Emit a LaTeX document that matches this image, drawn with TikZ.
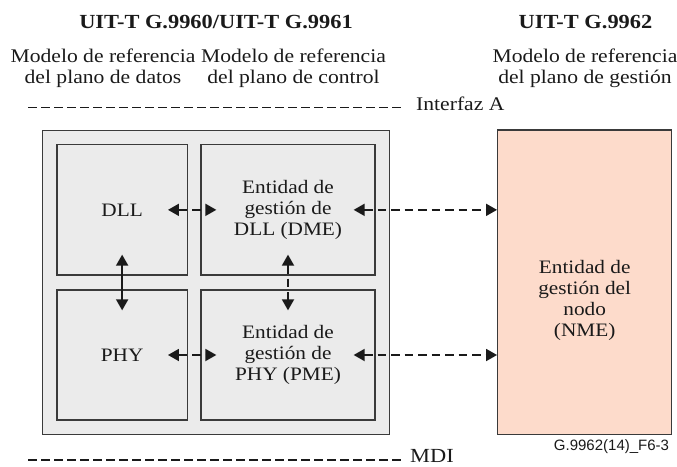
\documentclass[tikz,border=0pt]{standalone}
\usepackage{fontspec}
\setmainfont[FakeStretch=1.12]{Liberation Serif}
\newfontfamily\labelsans{Liberation Sans}
\usetikzlibrary{arrows.meta}

\definecolor{boxfill}{HTML}{EBEBEB}
\definecolor{boxline}{HTML}{3A3A3A}
\definecolor{nmefill}{HTML}{FDDBCB}
\definecolor{ink}{HTML}{1A1A1A}

\newcommand\boxfont{\fontsize{19}{21}\selectfont}
\newcommand\subfont{\fontsize{19.3}{21}\selectfont}
\newcommand\headfont{\fontsize{20}{22}\selectfont\bfseries}

\tikzset{
  panel/.style={draw=boxline, line width=1.3pt, fill=boxfill, inner sep=0pt,
                align=center, font=\boxfont, text=ink},
  caption/.style={inner sep=0pt, align=center, text=ink},
  tip/.tip={Triangle[length=11pt,width=12pt]},
  link/.style={line width=1.8pt, draw=ink, tip-tip},
  dashlink/.style={link, dash pattern=on 8.5pt off 5pt},
  refline/.style={line width=1.6pt, draw=ink, dash pattern=on 9pt off 4pt},
}

\begin{document}
\begin{tikzpicture}[x=1pt, y=-1pt]
\useasboundingbox (0,0) rectangle (677,466);

% headings
\node[caption, font=\headfont] (hleft) at (216,21.7) {UIT-T G.9960/UIT-T G.9961};
\node[caption, font=\headfont] (hright) at (585.5,21.7) {UIT-T G.9962};
\node[caption, font=\subfont] (mdata) at (103,68) {Modelo de referencia\\del plano de datos};
\node[caption, font=\subfont] (mctrl) at (293.5,68) {Modelo de referencia\\del plano de control};
\node[caption, font=\subfont] (mgest) at (585,68) {Modelo de referencia\\del plano de gestión};

% interface A reference line
\coordinate (ia0) at (28,107.5);
\coordinate (ia1) at (403,107.5);
\draw[refline] (ia0) -- (ia1);
\node[caption, anchor=west, font=\subfont] (ifa) at (416,103.5) {Interfaz A};

% G.9960/G.9961 container and its entities
\node[panel, minimum width=347pt, minimum height=303.6pt] (outer) at (215.8,282.5) {};
\node[panel, minimum width=130.3pt, minimum height=130.3pt] (dll) at (122.15,209.85) {DLL};
\node[panel, minimum width=130.3pt, minimum height=130pt] (phy) at (122.15,355) {PHY};
\node[panel, minimum width=174pt, minimum height=130.3pt] (dme) at (288,209.85)
  {Entidad de\\gestión de\\DLL (DME)};
\node[panel, minimum width=174pt, minimum height=130pt] (pme) at (288,355)
  {Entidad de\\gestión de\\PHY (PME)};

% node management entity
\node[panel, fill=nmefill, minimum width=174pt, minimum height=304.3pt] (nme) at (584.7,282.15) {};
\node[caption, font=\boxfont] (nmetxt) at ([yshift=-18pt]nme.center)
  {Entidad de\\gestión del\\nodo\\(NME)};

% connectors
\draw[link] ([yshift=21pt]dll.south) -- ([yshift=-21pt]phy.north);
\draw[dashlink] ([yshift=21pt]dme.south) -- ([yshift=-21pt]pme.north);
\draw[dashlink] ([xshift=-20pt]dll.east) -- ([xshift=16pt]dme.west);
\draw[dashlink] ([xshift=-20pt]phy.east) -- ([xshift=16pt]pme.west);
\draw[dashlink] ([xshift=-22pt]dme.east) -- (nme.west |- dme.east);
\draw[dashlink] ([xshift=-22pt]pme.east) -- (nme.west |- pme.east);

% MDI reference line
\coordinate (md0) at (28,460);
\coordinate (md1) at (403,460);
\draw[refline] (md0) -- (md1);
\node[caption, anchor=west, font=\fontsize{20}{22}\selectfont] (mdi) at (410,455.5) {MDI};

% figure tag
\node[caption, font=\labelsans\fontsize{15}{17}\selectfont] (tag) at (611.5,446.7) {G.9962(14)\_F6-3};
\end{tikzpicture}
\end{document}
